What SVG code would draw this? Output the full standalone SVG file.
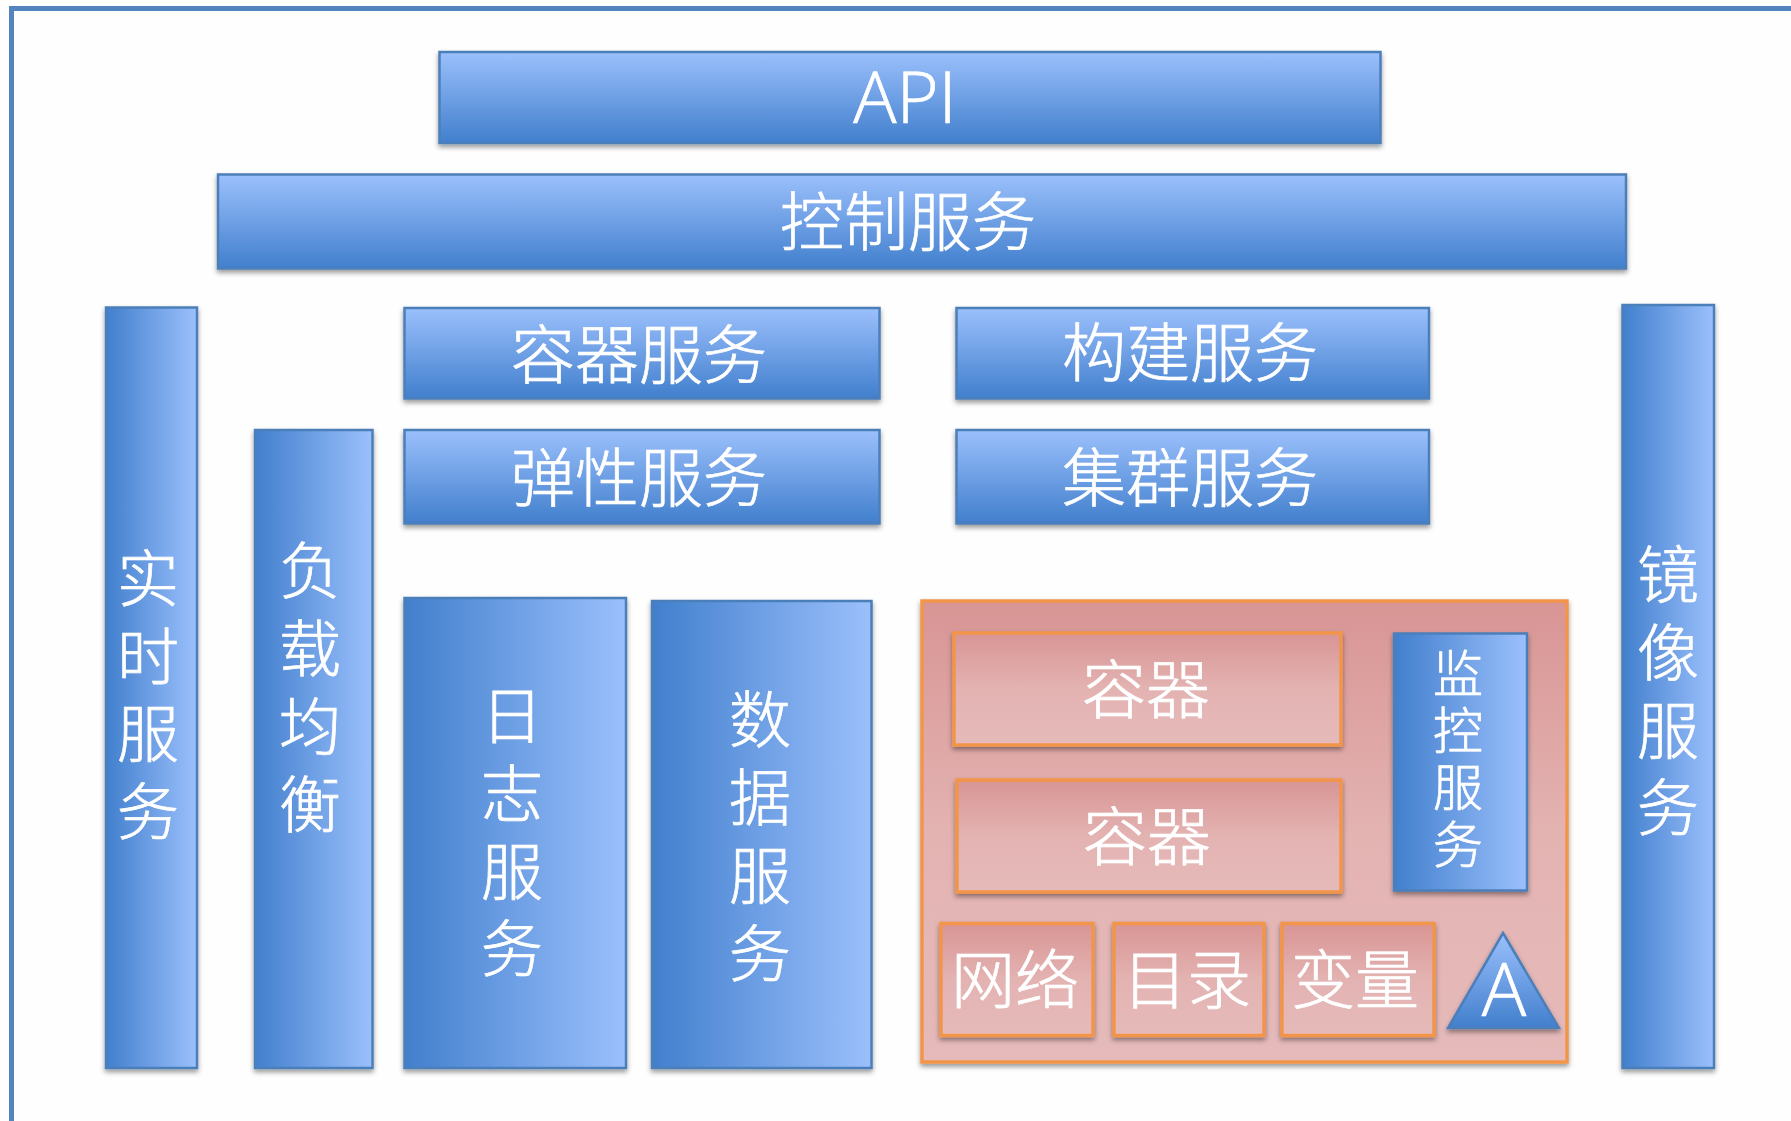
<svg xmlns="http://www.w3.org/2000/svg" width="1791" height="1121" viewBox="0 0 1791 1121">
<defs>
<linearGradient id="gv" x1="0" y1="0" x2="0" y2="1"><stop offset="0" stop-color="#9bc0fc"/><stop offset="1" stop-color="#417fcd"/></linearGradient>
<linearGradient id="gh" x1="0" y1="0" x2="1" y2="0"><stop offset="0" stop-color="#417fcd"/><stop offset="1" stop-color="#9bc0fc"/></linearGradient>
<linearGradient id="gp" x1="0" y1="0" x2="0" y2="1"><stop offset="0" stop-color="#d89594"/><stop offset="0.5" stop-color="#e3b3b2"/><stop offset="1" stop-color="#e6baba"/></linearGradient>
<filter id="sh" x="-10%" y="-10%" width="120%" height="120%"><feDropShadow dx="0" dy="3" stdDeviation="2.500" flood-color="#000" flood-opacity="0.4"/></filter>
</defs>
<style>
text{font-family:"Noto Sans CJK SC","Noto Sans",sans-serif;font-weight:300;fill:#fff;stroke:#fff;stroke-width:0.7px;text-anchor:middle}
.t{font-size:64px}.v{font-size:62px}.s{font-size:50px}
.l{font-family:"Open Sans",sans-serif}
.b{stroke:#4c7fb9;stroke-width:2.500;filter:url(#sh)}
.bv{fill:url(#gv)}.bh{fill:url(#gh)}
.p{fill:url(#gp);stroke:#f3954a;stroke-width:3.500;filter:url(#sh)}
</style>
<rect width="1791" height="1121" fill="#fefefe"/>
<path id="frame" d="M11.500 1121V8.500H1791" fill="none" stroke="#5384bd" stroke-width="5"/>
<g id="connectors"/>
<g id="api"><rect class="b bv" x="439.500" y="52" width="941" height="91"/><text x="905" y="123" class="l" style="font-size:72px">API</text></g>
<g id="control"><rect class="b bv" x="218" y="174.500" width="1408" height="94"/><text x="908" y="245" class="t">控制服务</text></g>
<g id="realtime"><rect class="b bh" x="106" y="307.500" width="91" height="760.500"/><text class="v"><tspan x="148" y="602">实</tspan><tspan x="148" y="680">时</tspan><tspan x="148" y="757">服</tspan><tspan x="148" y="835">务</tspan></text></g>
<g id="lb"><rect class="b bh" x="255" y="430" width="117.500" height="638"/><text class="v"><tspan x="310" y="594">负</tspan><tspan x="310" y="672">载</tspan><tspan x="310" y="750">均</tspan><tspan x="310" y="828">衡</tspan></text></g>
<g id="container-svc"><rect class="b bv" x="404.500" y="308" width="475" height="90.500"/><text x="639" y="378" class="t">容器服务</text></g>
<g id="build-svc"><rect class="b bv" x="956.500" y="308" width="472.500" height="90.500"/><text x="1190" y="376" class="t">构建服务</text></g>
<g id="elastic-svc"><rect class="b bv" x="404.500" y="430" width="475" height="93.500"/><text x="639" y="501" class="t">弹性服务</text></g>
<g id="cluster-svc"><rect class="b bv" x="956.500" y="430" width="472.500" height="93.500"/><text x="1190" y="501" class="t">集群服务</text></g>
<g id="log-svc"><rect class="b bh" x="404.500" y="598" width="221.500" height="470"/><text class="v"><tspan x="512" y="739">日</tspan><tspan x="512" y="817">志</tspan><tspan x="512" y="895">服</tspan><tspan x="512" y="972">务</tspan></text></g>
<g id="data-svc"><rect class="b bh" x="652" y="601" width="219.500" height="467"/><text class="v"><tspan x="760" y="743">数</tspan><tspan x="760" y="821">据</tspan><tspan x="760" y="899">服</tspan><tspan x="760" y="977">务</tspan></text></g>
<g id="host"><rect class="p" x="922" y="601" width="645" height="461"/></g>
<g id="container1"><rect class="p" x="954" y="633" width="387" height="112"/><text x="1146" y="713" class="t">容器</text></g>
<g id="container2"><rect class="p" x="957" y="780" width="384" height="112"/><text x="1147" y="860" class="t">容器</text></g>
<g id="monitor"><rect class="b bh" x="1394" y="633.500" width="133" height="257"/><text class="s"><tspan x="1458" y="692">监</tspan><tspan x="1458" y="749">控</tspan><tspan x="1458" y="806">服</tspan><tspan x="1458" y="863">务</tspan></text></g>
<g id="network"><rect class="p" x="941" y="923.500" width="152" height="112"/><text x="1015" y="1003" class="t">网络</text></g>
<g id="dir"><rect class="p" x="1114" y="923.500" width="150" height="112"/><text x="1187" y="1003" class="t">目录</text></g>
<g id="var"><rect class="p" x="1282" y="923.500" width="152" height="112"/><text x="1355" y="1003" class="t">变量</text></g>
<g id="agent"><path class="b bv" d="M1503 933L1559 1028H1448Z"/><text x="1504" y="1016" class="l" style="font-size:74px">A</text></g>
<g id="mirror"><rect class="b bh" x="1622.500" y="305" width="91.500" height="763"/><text class="v"><tspan x="1668" y="598">镜</tspan><tspan x="1668" y="676">像</tspan><tspan x="1668" y="754">服</tspan><tspan x="1668" y="831">务</tspan></text></g>
</svg>
